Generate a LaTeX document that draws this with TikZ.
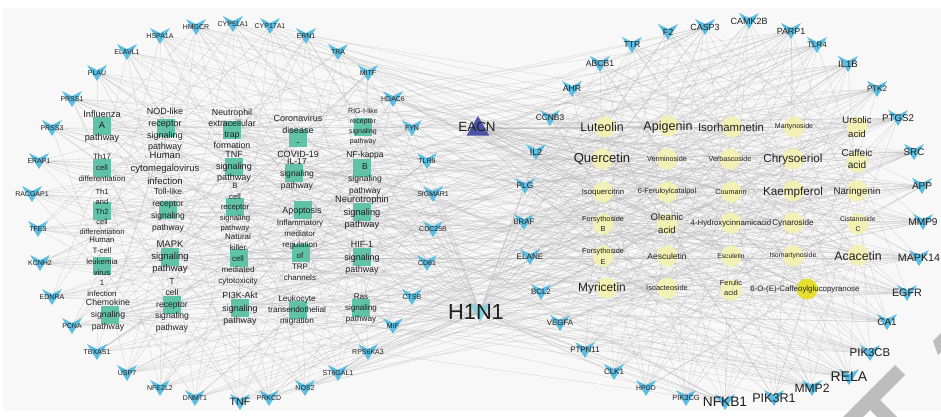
\documentclass[tikz,border=0pt]{standalone}
\usepackage{fontspec}
\setmainfont{Liberation Sans}
\usetikzlibrary{shapes.geometric,calc}
\pgfdeclarelayer{bg}
\pgfdeclarelayer{fg}
\pgfsetlayers{bg,main,fg}
\definecolor{vblue}{HTML}{5BBDE2}
\definecolor{hcyan}{HTML}{86D3DE}
\definecolor{psq}{HTML}{60C3A7}
\definecolor{cyel}{HTML}{F3F0B6}
\definecolor{cbright}{HTML}{E4DE2E}
\definecolor{tri}{HTML}{4A53A6}
\definecolor{panel}{HTML}{F8F8F8}
\definecolor{edgecol}{HTML}{B4B4B4}
\definecolor{wm}{HTML}{BDBDBD}
\begin{document}
\begin{tikzpicture}[x=1pt,y=-1pt,
  lab/.style={inner sep=0pt, align=center, text=black!88},
  sqnode/.style={rectangle, fill=psq, minimum size=18pt, inner sep=0pt},
  cnode/.style={circle, minimum size=21pt, inner sep=0pt},
  vanchor/.style={inner sep=0pt, minimum size=1pt},
  edge/.style={draw=edgecol, line width=0.3pt, opacity=0.6}]
\useasboundingbox (0,0) rectangle (941,416);
\begin{pgfonlayer}{bg}
  \fill[white] (0,0) rectangle (941,416);
  \fill[panel] (3,8) rectangle (941,411);
\end{pgfonlayer}

% ---------- ring targets ----------
\foreach \n/\x/\y/\fs/\t in {L1/196/27/7/HMGCR, L2/233/24/7/CYP51A1, L3/270/26/7/CYP17A1,
  L4/160/36/7/HSPA1A, L5/306/36/7/ERN1, L6/127/52/7/ELAVL1, L7/338/52/7/TRA,
  L8/97/73/7/PLAU, L9/368/73/7/MITF, L10/72/99/7/PRSS1, L11/393/99/7/HDAC6,
  L12/52/128/7/PRSS3, L13/412/128/7/FYN, L14/39/161/7/ERAP1, L15/427/161/7/TLR9,
  L16/32/194/7/RACGAP1, L17/433/194/7/SIGMAR1, L18/38/229/7/TFE3, L19/433/229/7/CDC25B,
  L20/40/263/7/KCNH2, L21/427/263/7/CD81, L22/52/297/7/EDNRA, L23/412/297/7/CTSB,
  L24/72/326/7/PCNA, L25/393/326/7/MIF, L26/97/352/7/TBXAS1, L27/368/352/7/RPS6KA3,
  L28/127/373/7/USP7, L29/338/373/7/ST6GAL1, L30/160/388/7/NFE2L2, L31/305/388/7/NOS2,
  L32/195/398/7/DNMT1, L33/269/398/7/PRKCD, L34/240/402/10.6/TNF,
  R1/668/32/9/F2, R2/705/27/8.9/CASP3, R3/749/21/9/CAMK2B, R4/791/31/8.9/PARP1,
  R5/632/45/8.6/TTR, R6/817/45/7.9/TLR4, R7/600/64/8.6/ABCB1, R8/848/64/9.5/IL1B,
  R9/572/89/8.7/AHR, R10/877/89/8/PTK2, R11/550/118/8.4/CCNB3, R12/898/118/9.7/PTGS2,
  R13/536/152/8.9/IL2, R14/914/152/9.8/SRC, R15/525/186/8.3/PLG, R16/922/186/10/APP,
  R17/524/222/7.9/BRAF, R18/923/222/10.1/MMP9, R19/530/257/8.1/ELANE, R20/919/258/10.7/MAPK14,
  R21/541/292/7.9/BCL2, R22/907/293/10.8/EGFR, R23/560/323/7.9/VEGFA, R24/887/322/9.9/CA1,
  R25/585/350/7.9/PTPN11, R26/870/353/11.4/PIK3CB, R27/614/372/8/CLK1, R28/849/377/14/RELA,
  R29/646/388/6.8/HPGD, R30/812/388/12.1/MMP2, R31/686/398/7.5/PIK3CG, R32/725/402/13.7/NFKB1,
  R33/774/398/12.6/PIK3R1}{
  \node[vanchor] (\n) at (\x,\y) {};
  \fill[vblue] (\n) ++(-10,-8) -- ++(10,5) -- ++(10,-5) -- ++(-10,16) -- cycle;
  \begin{pgfonlayer}{fg}
    \node[lab, font=\fontsize{\fs}{\fs}\selectfont] (\n-t) at (\x,\y) {\t};
  \end{pgfonlayer}
}

% ---------- compounds ----------
\foreach \n/\x/\y/\lx/\ly/\fs/\ls/\c/\t in {
  C1/605/127/602/127/12.4/14/cyel/Luteolin, C2/668/126/668/127/12.6/14/cyel/Apigenin,
  C3/732/127/731/127/11.4/13/cyel/Isorhamnetin, C4/794/127/794/127/7/8/cyel/Martynoside,
  C5/857/127/857/127/9.6/14/cyel/{Ursolic\\acid},
  C6/602/159/602/159/13/15/cyel/Quercetin, C7/667/159/667/159/7.2/8/cyel/Verminoside,
  C8/730/159/730/159/7.1/8/cyel/Verbascoside, C9/793/159/793/159/11.7/13/cyel/Chrysoeriol,
  C10/857/162/857/159/10/12/cyel/{Caffeic\\acid},
  C11/603/192/603/192/7.8/9/cyel/Isoquercitrin, C12/667/192/667/192/7.4/9/cyel/6-Feruloylcatalpol,
  C13/731/192/731/192/7.2/9/cyel/Coumarin, C14/793/191/793/192/11.7/13/cyel/Kaempferol,
  C15/857/191/857/192/9.7/11/cyel/Naringenin,
  C16/603/224/603/224/7.3/10/cyel/{Forsythoside\\B}, C17/667/224/667/223.5/9.6/13/cyel/{Oleanic\\acid},
  C18/731/223/731/223/7.8/9/cyel/4-Hydroxycinnamicacid, C19/793/223/793/223/8.2/9/cyel/Cynaroside,
  C20/858/224/858/224/6.8/10/cyel/{Cistanoside\\C},
  C21/603/256/603/256.5/7.3/11/cyel/{Forsythoside\\E}, C22/667/256/667/256/8.5/10/cyel/Aesculetin,
  C23/731/256/731/256/6.7/8/cyel/Esculetin, C24/793/256/793/256/6.9/8/cyel/Isomartynoside,
  C25/858/255/858/256/12.3/14/cyel/Acacetin,
  C26/607/288/602/288/11.9/13/cyel/Myricetin, C27/667/288/667/288/7.4/9/cyel/Isoacteoside,
  C28/731/290/731/288/7.4/10/cyel/{Ferulic\\acid},
  C29/807/289/805/289/7.9/9/cbright/6-O-(E)-Caffeoylglucopyranose}{
  \node[cnode, fill=\c] (\n) at (\x,\y) {};
  \begin{pgfonlayer}{fg}
    \node[lab, font=\fontsize{\fs}{\ls}\selectfont] (\n-t) at (\lx,\ly) {\t};
  \end{pgfonlayer}
}

% ---------- pathways ----------
\foreach \n/\x/\y/\lx/\ly/\fs/\ls/\t in {
  P1/102/126/102/126.5/9.2/11.5/{Influenza\\A\\pathway},
  P2/102/168/102/168/7.8/11/{Th17\\cell\\differentiation},
  P3/102/211/102/212/7.5/10/{Th1\\and\\Th2\\cell\\differentiation},
  P4/102/266/102/267/7.8/10.8/{Human\\T-cell\\leukemia\\virus\\1\\infection},
  P5/110/315/108/315/8.7/12/{Chemokine\\signaling\\pathway},
  P6/166/128/165/130/9/11.7/{NOD-like\\receptor\\signaling\\pathway},
  P8/168/210/168/210.5/8.5/12/{Toll-like\\receptor\\signaling\\pathway},
  P9/170/257/170/257/9.5/12/{MAPK\\signaling\\pathway},
  P10/172/305/172/305/8.6/11.5/{T\\cell\\receptor\\signaling\\pathway},
  P11/232/130/232/129/8.8/11.2/{Neutrophil\\extracellular\\trap\\formation},
  P12/234/167/234/167/9/11.8/{TNF\\signaling\\pathway},
  P13/235/207/235/208/7.7/10.5/{B\\cell\\receptor\\signaling\\pathway},
  P14/239/258/238/259/8/11/{Natural\\killer\\cell\\mediated\\cytotoxicity},
  P15/240/308/240/309/8.9/12.5/{PI3K-Akt\\signaling\\pathway},
  P16/298/138/298/136/9/12/{Coronavirus\\disease\\-\\COVID-19},
  P17/294/173/297/174/8.6/12/{IL-17\\signaling\\pathway},
  P18/303/210/302/211/8.9/11/{Apoptosis},
  P19/301/253/300/250.5/8/11/{Inflammatory\\mediator\\regulation\\of\\TRP\\channels},
  P20/298/310/297/310/8.2/11/{Leukocyte\\transendothelial\\migration},
  P21/363/127/363/127/7/10/{RIG-I-like\\receptor\\signaling\\pathway},
  P22/362/168/365/173/8.5/12/{NF-kappa\\B\\signaling\\pathway},
  P23/362/212/362/213/9.3/12.5/{Neurotrophin\\signaling\\pathway},
  P24/362/257/362/258/8.9/12.5/{HIF-1\\signaling\\pathway},
  P25/361/308/361/309/8.1/11/{Ras\\signaling\\pathway}}{
  \node[sqnode] (\n) at (\x,\y) {};
  \begin{pgfonlayer}{fg}
    \node[lab, font=\fontsize{\fs}{\ls}\selectfont] (\n-t) at (\lx,\ly) {\t};
  \end{pgfonlayer}
}
\begin{pgfonlayer}{fg}
  \node[lab, font=\fontsize{9.5}{13}\selectfont] (P7-t) at (165,168) {Human\\cytomegalovirus\\infection};
\end{pgfonlayer}

% ---------- central nodes ----------
\node[regular polygon, regular polygon sides=3, fill=tri, minimum size=26pt, inner sep=0pt] (EACN) at (478,129) {};
\node[vanchor] (H1N1) at (480,312) {};
\fill[hcyan] (H1N1) ++(-11,-10) -- ++(11,6) -- ++(11,-6) -- ++(-11,20) -- cycle;
\begin{pgfonlayer}{fg}
  \node[lab, font=\fontsize{13.4}{14}\selectfont] (EACN-t) at (477,127) {EACN};
  \node[lab, font=\fontsize{21.8}{22}\selectfont] (H1N1-t) at (476,312) {H1N1};
\end{pgfonlayer}

% ---------- edges ----------
\begin{pgfonlayer}{bg}
  \foreach \i in {1,...,29}{\draw[edge] (EACN.center) -- (C\i.center);}
  \foreach \j in {1,...,34}{\draw[edge] (H1N1.center) -- (L\j.center);}
  \foreach \j in {1,...,33}{\draw[edge] (H1N1.center) -- (R\j.center);}
  \foreach \i in {1,...,29}{
    \foreach \j in {1,...,33}{
      \pgfmathtruncatemacro\k{mod(3*\i+5*\j,4)}
      \ifnum\k=0 \draw[edge] (C\i.center) -- (R\j.center);\fi
    }
    \foreach \j in {1,...,34}{
      \pgfmathtruncatemacro\k{mod(7*\i+11*\j,9)}
      \ifnum\k=0 \draw[edge] (C\i.center) -- (L\j.center);\fi
    }
  }
  \foreach \p in {1,2,3,4,5,6,8,9,10,11,12,13,14,15,16,17,18,19,20,21,22,23,24,25}{
    \foreach \j in {1,...,34}{
      \pgfmathtruncatemacro\k{mod(5*\p+3*\j,4)}
      \ifnum\k=0 \draw[edge] (P\p.center) -- (L\j.center);\fi
    }
    \foreach \j in {1,...,33}{
      \pgfmathtruncatemacro\k{mod(2*\p+7*\j,6)}
      \ifnum\k=0 \draw[edge] (P\p.center) -- (R\j.center);\fi
    }
  }
\end{pgfonlayer}

% ---------- watermark fragment (under the labels) ----------
\fill[wm] (835,425) -- (895,365) -- (905,375) -- (845,435) -- cycle;
\fill[wm] (875,395) -- (905,425) -- (895,435) -- (865,405) -- cycle;
\fill[wm] (933,341) -- (941,333) -- (941,352) -- (938,355) -- cycle;
\end{tikzpicture}
\end{document}
